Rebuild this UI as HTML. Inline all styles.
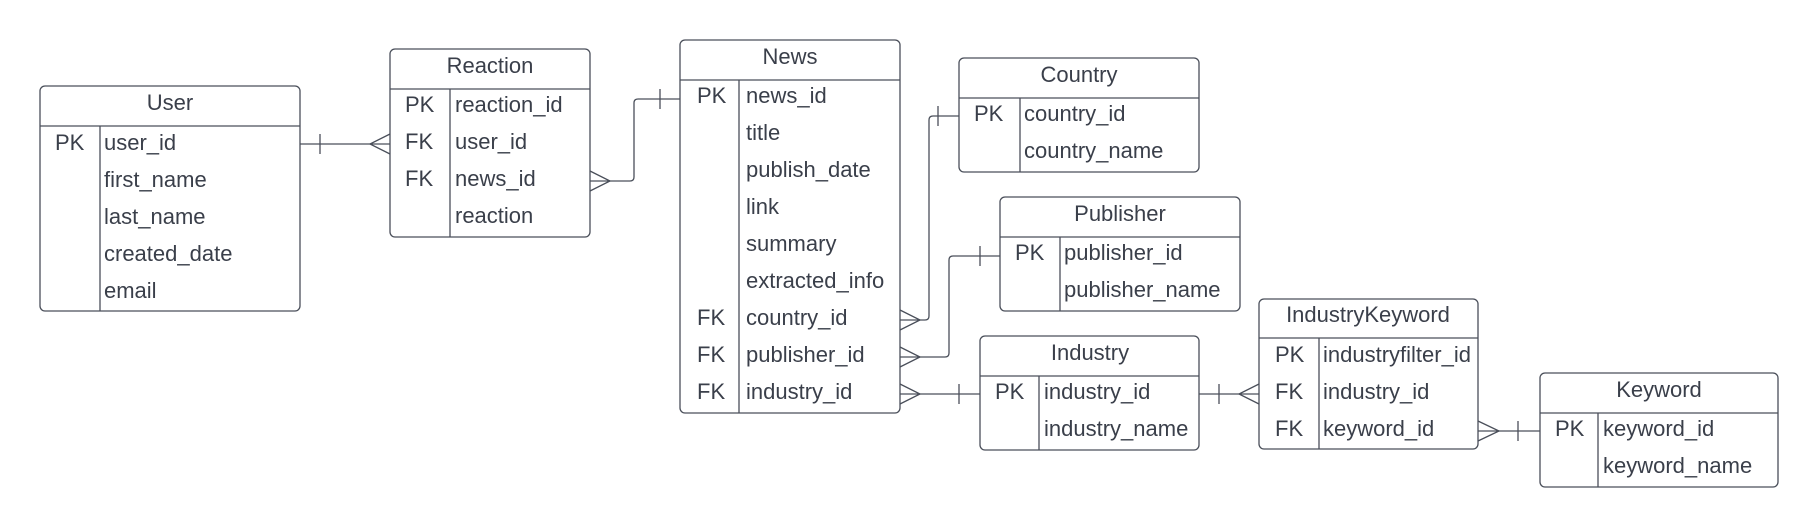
<!DOCTYPE html>
<html><head><style>
html,body{margin:0;padding:0;background:#fff;}
svg{display:block;}
text{font-family:"Liberation Sans",sans-serif;font-size:22px;fill:#3a3f4a;}
</style></head><body>
<svg width="1820" height="527" viewBox="0 0 1820 527" xmlns="http://www.w3.org/2000/svg">
<g fill="none" stroke="#4a4f5a" stroke-width="1.3">
<rect x="40" y="86" width="260" height="225" rx="5"/>
<line x1="40" y1="126" x2="300" y2="126"/><line x1="100" y1="126" x2="100" y2="311"/>
<rect x="390" y="49" width="200" height="188" rx="5"/>
<line x1="390" y1="89" x2="590" y2="89"/><line x1="450" y1="89" x2="450" y2="237"/>
<rect x="680" y="40" width="220" height="373" rx="5"/>
<line x1="680" y1="80" x2="900" y2="80"/><line x1="739" y1="80" x2="739" y2="413"/>
<rect x="959" y="58" width="240" height="114" rx="5"/>
<line x1="959" y1="98" x2="1199" y2="98"/><line x1="1020" y1="98" x2="1020" y2="172"/>
<rect x="1000" y="197" width="240" height="114" rx="5"/>
<line x1="1000" y1="237" x2="1240" y2="237"/><line x1="1060" y1="237" x2="1060" y2="311"/>
<rect x="980" y="336" width="219" height="114" rx="5"/>
<line x1="980" y1="376" x2="1199" y2="376"/><line x1="1039" y1="376" x2="1039" y2="450"/>
<rect x="1259" y="299" width="219" height="150" rx="5"/>
<line x1="1259" y1="338" x2="1478" y2="338"/><line x1="1319" y1="338" x2="1319" y2="449"/>
<rect x="1540" y="373" width="238" height="114" rx="5"/>
<line x1="1540" y1="413" x2="1778" y2="413"/><line x1="1598" y1="413" x2="1598" y2="487"/>

<line x1="300" y1="144" x2="390" y2="144"/>
<line x1="320" y1="134" x2="320" y2="154"/>
<polyline points="390,134 370,144 390,154"/>
<path d="M590,181 H630 Q634,181 634,177 V103 Q634,99 638,99 H680"/>
<line x1="660" y1="89" x2="660" y2="109"/>
<polyline points="590,171 610,181 590,191"/>
<path d="M900,320 H925 Q929,320 929,316 V120 Q929,116 933,116 H959"/>
<line x1="938" y1="106" x2="938" y2="126"/>
<polyline points="900,310 920,320 900,330"/>
<path d="M900,357 H945 Q949,357 949,353 V260 Q949,256 953,256 H1000"/>
<line x1="980" y1="246" x2="980" y2="266"/>
<polyline points="900,347 920,357 900,367"/>
<line x1="900" y1="394" x2="980" y2="394"/>
<line x1="959" y1="384" x2="959" y2="404"/>
<polyline points="900,384 920,394 900,404"/>
<line x1="1199" y1="394" x2="1259" y2="394"/>
<line x1="1219" y1="384" x2="1219" y2="404"/>
<polyline points="1259,384 1239,394 1259,404"/>
<line x1="1478" y1="431" x2="1540" y2="431"/>
<line x1="1518" y1="421" x2="1518" y2="441"/>
<polyline points="1478,421 1499,431 1478,441"/>
</g>

<g text-anchor="middle">
<text x="170" y="110">User</text>
<text x="490" y="73">Reaction</text>
<text x="790" y="64">News</text>
<text x="1079" y="82">Country</text>
<text x="1120" y="221">Publisher</text>
<text x="1090" y="360">Industry</text>
<text x="1368" y="322">IndustryKeyword</text>
<text x="1659" y="397">Keyword</text>
</g>
<g>
<text x="55" y="150">PK</text>
<text x="104" y="150">user_id</text>
<text x="104" y="187">first_name</text>
<text x="104" y="224">last_name</text>
<text x="104" y="261">created_date</text>
<text x="104" y="298">email</text>
<text x="405" y="112">PK</text><text x="455" y="112">reaction_id</text>
<text x="405" y="149">FK</text><text x="455" y="149">user_id</text>
<text x="405" y="186">FK</text><text x="455" y="186">news_id</text>
<text x="455" y="223">reaction</text>
<text x="697" y="103">PK</text><text x="746" y="103">news_id</text>
<text x="746" y="140">title</text>
<text x="746" y="177">publish_date</text>
<text x="746" y="214">link</text>
<text x="746" y="251">summary</text>
<text x="746" y="288">extracted_info</text>
<text x="697" y="325">FK</text><text x="746" y="325">country_id</text>
<text x="697" y="362">FK</text><text x="746" y="362">publisher_id</text>
<text x="697" y="399">FK</text><text x="746" y="399">industry_id</text>
<text x="974" y="121">PK</text><text x="1024" y="121">country_id</text>
<text x="1024" y="158">country_name</text>
<text x="1015" y="260">PK</text><text x="1064" y="260">publisher_id</text>
<text x="1064" y="297">publisher_name</text>
<text x="995" y="399">PK</text><text x="1044" y="399">industry_id</text>
<text x="1044" y="436">industry_name</text>
<text x="1275" y="362">PK</text><text x="1323" y="362">industryfilter_id</text>
<text x="1275" y="399">FK</text><text x="1323" y="399">industry_id</text>
<text x="1275" y="436">FK</text><text x="1323" y="436">keyword_id</text>
<text x="1555" y="436">PK</text><text x="1603" y="436">keyword_id</text>
<text x="1603" y="473">keyword_name</text>
</g>
</svg>
</body></html>
